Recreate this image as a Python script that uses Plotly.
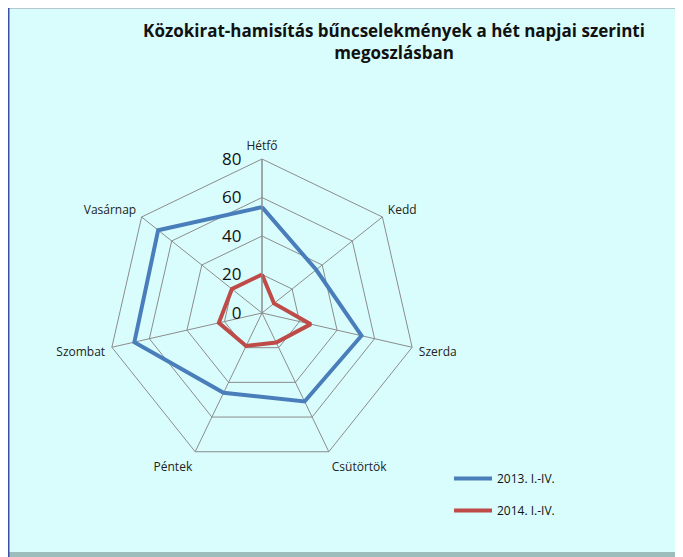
import plotly.graph_objects as go

days = ["Hétfő", "Kedd", "Szerda", "Csütörtök", "Péntek", "Szombat", "Vasárnap"]
series_2013 = [55, 36, 53, 51, 46, 68, 69]
series_2014 = [20, 8, 26, 17, 19, 23, 20]
series_names = ["2013. I.-IV.", "2014. I.-IV."]
radial_ticks = [0, 20, 40, 60, 80]

# page body has an 8px margin; the figure is sized to fit the 683x557 window
OFF = 8
W, H = 683 - OFF, 557 - OFF
bg = "#d9fdfd"

def px(x):  # screen x -> paper fraction
    return (x - OFF) / W

def py(y):  # screen y -> paper fraction
    return 1 - (y - OFF) / H

fig = go.Figure()
for name, vals, col, grp in [(series_names[0], series_2013, "#4a7ebb", "a"),
                             (series_names[1], series_2014, "#be4b48", "b")]:
    fig.add_trace(go.Scatterpolar(
        r=vals + vals[:1], theta=days + days[:1], mode="lines", name=name,
        line=dict(color=col, width=4), legendgroup=grp,
    ))

cx, cy, rad = 262, 313, 154

fig.update_layout(
    width=W, height=H,
    margin=dict(l=0, r=0, t=0, b=0),
    paper_bgcolor="white",
    font=dict(family="Open Sans", color="#222"),
    title=dict(text="<b>Közokirat-hamisítás bűncselekmények a hét napjai szerinti<br>megoszlásban</b>",
               x=px(394), xanchor="center", y=py(37), yanchor="top",
               font=dict(family="Open Sans", size=17, color="#111")),
    polar=dict(
        domain=dict(x=[px(cx - rad), px(cx + rad)], y=[py(cy + rad), py(cy - rad)]),
        bgcolor=bg,
        gridshape="linear",
        radialaxis=dict(range=[0, 80], tickvals=radial_ticks, angle=90, side="counterclockwise",
                        tickangle=90, showline=True, linecolor="#8c8c8c", linewidth=1,
                        gridcolor="#8c8c8c", gridwidth=1, ticks="outside", ticklen=14,
                        tickcolor="rgba(0,0,0,0)",
                        tickfont=dict(family="Open Sans", size=17, color="#111")),
        angularaxis=dict(direction="clockwise", rotation=90, showline=True,
                         linecolor="#8c8c8c", linewidth=1, gridcolor="#8c8c8c",
                         ticks="outside", ticklen=4, tickcolor="rgba(0,0,0,0)",
                         tickfont=dict(size=12, color="#222")),
    ),
    legend=dict(x=px(449), y=py(464), xanchor="left", yanchor="top",
                bgcolor="rgba(0,0,0,0)", font=dict(size=12, color="#111"),
                traceorder="grouped", tracegroupgap=13, itemwidth=38),
    shapes=[
        dict(type="rect", xref="paper", yref="paper", x0=px(8), x1=px(683), y0=py(560), y1=py(6),
             fillcolor="#9dbcbc", line=dict(width=0), layer="below"),
        dict(type="rect", xref="paper", yref="paper", x0=px(9), x1=px(679), y0=py(552), y1=py(7),
             fillcolor=bg, line=dict(width=0), layer="below"),
        dict(type="line", xref="paper", yref="paper", x0=px(8), x1=px(683), y0=py(8.5), y1=py(8.5),
             line=dict(color="#b4c6d0", width=1), layer="below"),
        dict(type="line", xref="paper", yref="paper", x0=px(8.5), x1=px(8.5), y0=py(560), y1=py(6),
             line=dict(color="#3a4fa8", width=2), layer="below"),
    ],
)
fig.write_html("out.html")
